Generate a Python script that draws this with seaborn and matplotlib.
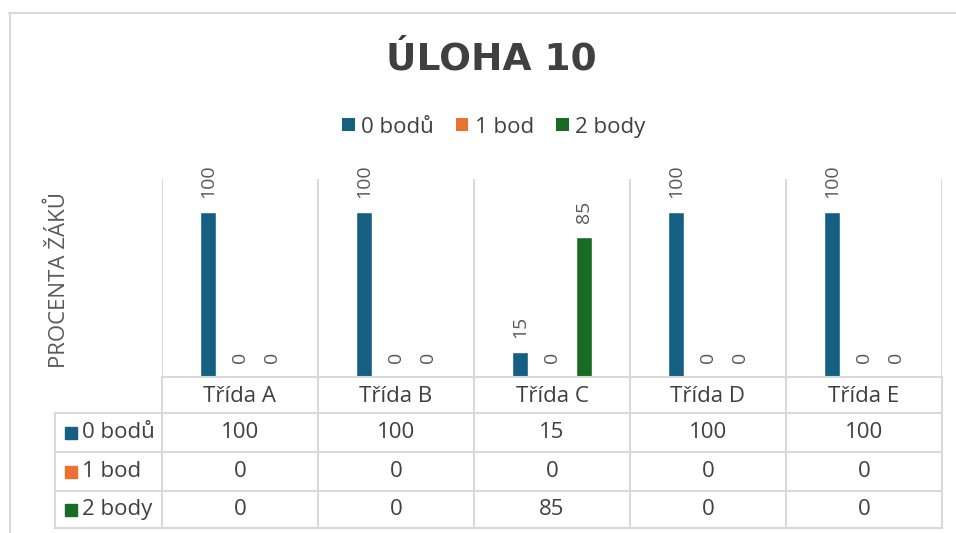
import matplotlib
matplotlib.use("Agg")
import matplotlib.pyplot as plt
from matplotlib.lines import Line2D
from matplotlib.patches import Patch
import seaborn as sns
import pandas as pd

# Chart data
classes = ["Třída A", "Třída B", "Třída C", "Třída D", "Třída E"]
series = ["0 bodů", "1 bod", "2 body"]
values_0 = [100, 100, 15, 100, 100]
values_1 = [0, 0, 0, 0, 0]
values_2 = [0, 0, 85, 0, 0]
colors = ["#156082", "#E97132", "#196B24"]

title = "ÚLOHA 10"
ylabel = "PROCENTA ŽÁKŮ"

sns.set_theme(style="white")
plt.rcParams["font.family"] = ["Open Sans", "DejaVu Sans"]

all_values = [values_0, values_1, values_2]
df = pd.DataFrame(
    [(c, s, v) for s, vals in zip(series, all_values) for c, v in zip(classes, vals)],
    columns=["trida", "serie", "procenta"],
)

W, H = 956, 533
fig = plt.figure(figsize=(W / 100, H / 100), dpi=100)
fig.patch.set_facecolor("white")

GRID = "#d9d9d9"
TXT = "#404040"
LBL = "#595959"


def fx(px):
    return px / W


def fy(py):
    return 1 - py / H


# plot area
x0, x1, ytop, ybase = 162, 942, 179, 377
ax = fig.add_axes([fx(x0), fy(ybase), fx(x1 - x0), (ybase - ytop) / H])
sns.barplot(
    data=df, x="trida", y="procenta", hue="serie", hue_order=series,
    palette=colors, width=0.615, gap=0.47, ax=ax, legend=False,
    saturation=1,
)
ax.set_xlim(-0.5, 4.5)
ax.set_ylim(0, 120)
for sp in ax.spines.values():
    sp.set_visible(False)
ax.set_xticks([])
ax.set_yticks([])
ax.set_xlabel("")
ax.set_ylabel("")
for b in range(len(classes) + 1):
    ax.axvline(b - 0.5, color=GRID, lw=1.5, zorder=0)

for cont in ax.containers:
    ax.bar_label(cont, fmt="%g", rotation=90, padding=10, fontsize=14, color=LBL)

# data table under the plot
col_w = (x1 - x0) / len(classes)
xleft = -0.5 - (x0 - 55) / col_w
tab = fig.add_axes([fx(55), fy(528), fx(x1 - 55), (528 - ybase) / H])
tab.set_xlim(xleft, 4.5)
tab.set_ylim(528, ybase)
tab.axis("off")

row_edges = [ybase, 413, 452, 491, 528]
lk = dict(color=GRID, lw=1.5, clip_on=False, solid_capstyle="projecting")
tab.add_line(Line2D([-0.5, 4.5], [ybase, ybase], **lk))
for y in row_edges[1:]:
    tab.add_line(Line2D([xleft, 4.5], [y, y], **lk))
for b in range(len(classes) + 1):
    tab.add_line(Line2D([b - 0.5, b - 0.5], [ybase, 528], **lk))
tab.add_line(Line2D([xleft, xleft], [413, 528], **lk))

for i, c in enumerate(classes):
    tab.text(i, (row_edges[0] + row_edges[1]) / 2 + 1, c, ha="center", va="center",
             fontsize=16, color=TXT)

for r, (s, vals, col) in enumerate(zip(series, all_values, colors)):
    yc = (row_edges[r + 1] + row_edges[r + 2]) / 2
    tab.plot([xleft + 15.5 / col_w], [yc], marker="s", ms=9, color=col,
             clip_on=False, lw=0)
    tab.text(xleft + 27 / col_w, yc, s, ha="left", va="center", fontsize=16, color=TXT)
    for i, v in enumerate(vals):
        tab.text(i, yc, f"{v:g}", ha="center", va="center", fontsize=16, color=TXT)

# title, legend, axis label
fig.text(fx(491), fy(60), title, ha="center", va="center", fontsize=27,
         fontweight="bold", color=TXT, family=["DejaVu Sans"])

handles = [Patch(facecolor=c, edgecolor="none", label=s) for s, c in zip(series, colors)]
fig.legend(handles=handles, loc="center", bbox_to_anchor=(fx(494), fy(127)), ncol=3,
           frameon=False, fontsize=16, handlelength=0.55, handleheight=0.55,
           handletextpad=0.3, columnspacing=1.0, labelcolor=TXT)

fig.text(fx(59), fy(280), ylabel, rotation=90, ha="center", va="center",
         fontsize=16, color=LBL)

# outer chart border
fig.add_artist(Line2D([fx(9), 1], [fy(13), fy(13)], color=GRID, lw=1.5))
fig.add_artist(Line2D([fx(10), fx(10)], [fy(13), 0], color=GRID, lw=1.5))

fig.savefig("out.png", dpi=100)
